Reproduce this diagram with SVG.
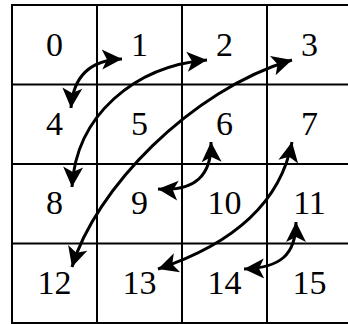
<svg xmlns="http://www.w3.org/2000/svg" width="348" height="324" viewBox="0 0 348 324">
<style>
.grid{stroke:#000;stroke-width:2;fill:none}
.lbl{font-family:"Liberation Serif","DejaVu Serif",serif;font-size:34px;fill:#000;text-anchor:middle}
.arr{stroke:#000;stroke-width:3;fill:none;marker-start:url(#head);marker-end:url(#head)}
</style>
<defs>
<marker id="head" markerUnits="userSpaceOnUse" markerWidth="40" markerHeight="40" refX="0" refY="0" orient="auto-start-reverse" overflow="visible">
<path d="M0,0 L-20,-10 L-15,0 L-20,10 Z" fill="#000"/>
</marker>
</defs>
<rect width="348" height="324" fill="#fff"/>
<g id="grid" class="grid">
<rect x="12" y="5" width="340" height="318"/>
<line x1="97" y1="5" x2="97" y2="323"/>
<line x1="182" y1="5" x2="182" y2="323"/>
<line x1="267" y1="5" x2="267" y2="323"/>
<line x1="12" y1="84.5" x2="352" y2="84.5"/>
<line x1="12" y1="164" x2="352" y2="164"/>
<line x1="12" y1="243.5" x2="352" y2="243.5"/>
</g>
<g id="n0"><text class="lbl" x="54.5" y="56">0</text></g>
<g id="n1"><text class="lbl" x="139.5" y="56">1</text></g>
<g id="n2"><text class="lbl" x="224.5" y="56">2</text></g>
<g id="n3"><text class="lbl" x="309.5" y="56">3</text></g>
<g id="n4"><text class="lbl" x="54.5" y="135">4</text></g>
<g id="n5"><text class="lbl" x="139.5" y="135">5</text></g>
<g id="n6"><text class="lbl" x="224.5" y="135">6</text></g>
<g id="n7"><text class="lbl" x="309.5" y="135">7</text></g>
<g id="n8"><text class="lbl" x="54.5" y="214">8</text></g>
<g id="n9"><text class="lbl" x="139.5" y="214">9</text></g>
<g id="n10"><text class="lbl" x="224.5" y="214">10</text></g>
<g id="n11"><text class="lbl" x="309.5" y="214">11</text></g>
<g id="n12"><text class="lbl" x="54.5" y="294">12</text></g>
<g id="n13"><text class="lbl" x="139.5" y="294">13</text></g>
<g id="n14"><text class="lbl" x="224.5" y="294">14</text></g>
<g id="n15"><text class="lbl" x="309.5" y="294">15</text></g>
<g id="connectors">
<path class="arr" d="M71,108 C73,78 88,60 122,59"/>
<path class="arr" d="M72,187 C76,115 135,66 207,60"/>
<path class="arr" d="M72,267 C95,190 190,90 292,60"/>
<path class="arr" d="M158,189 C195,192 212,175 211,142"/>
<path class="arr" d="M158,269 C230,245 280,205 292,142"/>
<path class="arr" d="M244,269 C280,268 296,255 296,222"/>
</g>
</svg>
